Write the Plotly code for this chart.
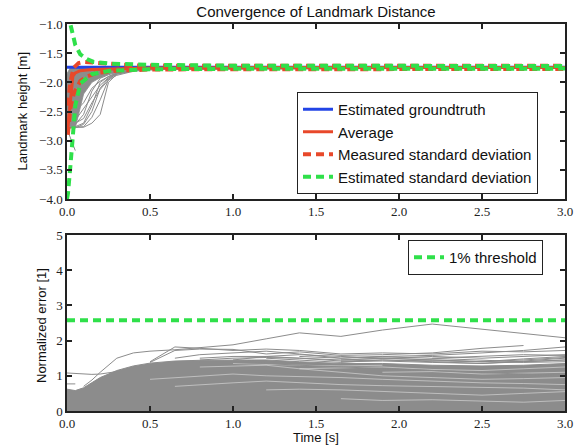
import plotly.graph_objects as go

W, H = 584, 448


def px(X):
    return X / W


def py(Y):
    return 1 - Y / H


# ---------------- top panel data ----------------
truth_t = [0.0, 3.0]
truth_v = [-1.74, -1.74]

avg_t = [0.005, 0.015, 0.025, 0.035, 0.05, 0.08, 0.15, 0.3, 0.5, 1.0, 3.0]
avg_v = [-2.8, -2.5, -2.1, -1.9, -1.84, -1.8, -1.78, -1.765, -1.755, -1.748, -1.745]

msd_hi_t = [0.005, 0.02, 0.04, 0.07, 0.1, 0.15, 0.25, 0.4, 0.7, 3.0]
msd_hi_v = [-2.4, -2.0, -1.75, -1.67, -1.65, -1.66, -1.69, -1.71, -1.715, -1.715]
msd_lo_t = [0.005, 0.02, 0.04, 0.08, 0.12, 0.18, 0.3, 0.5, 1.0, 3.0]
msd_lo_v = [-2.9, -2.45, -2.2, -1.98, -1.9, -1.84, -1.8, -1.78, -1.775, -1.772]

esd_hi_t = [0.022, 0.03, 0.05, 0.08, 0.12, 0.16, 0.26, 0.5, 1.0, 3.0]
esd_hi_v = [-1.02, -1.13, -1.36, -1.52, -1.6, -1.65, -1.68, -1.7, -1.715, -1.72]
esd_lo_t = [0.0, 0.006, 0.02, 0.03, 0.04, 0.05, 0.08, 0.15, 0.26, 0.5, 1.0, 3.0]
esd_lo_v = [-4.0, -3.9, -3.45, -3.1, -2.75, -2.4, -2.02, -1.86, -1.8, -1.775, -1.768, -1.765]

# individual landmark runs (top)
t_top = [0.0, 0.02, 0.05, 0.1, 0.15, 0.2, 0.25, 0.3, 0.4, 0.5, 0.7, 1.0, 3.0]
band_top_hi = [-1.85, -1.75, -1.74, -1.74, -1.74, -1.74, -1.74, -1.74, -1.74, -1.74, -1.74, -1.74, -1.74]
band_top_lo = [-2.72, -2.78, -2.78, -2.2, -2.0, -1.92, -1.86, -1.82, -1.79, -1.78, -1.772, -1.765, -1.76]
runs_top = [
    [-2.75, -2.78, -2.77, -2.76, -2.6, -2.3, -1.95, -1.85, -1.8, -1.78, -1.77, -1.765, -1.76],
    [-2.7, -2.75, -2.76, -2.7, -2.4, -2.0, -1.9, -1.84, -1.8, -1.78, -1.77, -1.765, -1.76],
    [-2.6, -2.7, -2.72, -2.55, -2.15, -1.93, -1.87, -1.83, -1.79, -1.78, -1.77, -1.765, -1.76],
    [-2.8, -2.78, -2.77, -2.77, -2.7, -2.55, -2.0, -1.86, -1.8, -1.78, -1.77, -1.765, -1.76],
    [-2.5, -2.6, -2.65, -2.45, -2.25, -2.05, -1.92, -1.85, -1.8, -1.78, -1.77, -1.765, -1.76],
    [-2.3, -2.4, -2.5, -2.35, -2.1, -1.98, -1.9, -1.84, -1.79, -1.78, -1.77, -1.765, -1.76],
    [-2.8, -2.95, -3.17, None, None, None, None, None, None, None, None, None, None],
    [-2.65, -2.77, -2.78, -2.72, -2.5, -2.1, -1.93, -1.86, -1.8, -1.78, -1.77, -1.765, -1.76],
    [-2.4, -2.55, -2.7, -2.62, -2.35, -2.12, -1.96, -1.88, -1.81, -1.785, -1.772, -1.765, -1.76],
]

# ---------------- bottom panel data ----------------
t_bot = [0.0, 0.05, 0.1, 0.15, 0.2, 0.3, 0.4, 0.5, 0.65, 0.8, 1.0, 1.2, 1.4, 1.65, 1.9, 2.2, 2.5, 2.75, 3.0]
band_bot = [0.62, 0.58, 0.66, 0.8, 0.95, 1.15, 1.28, 1.36, 1.42, 1.44, 1.45, 1.45, 1.4, 1.35, 1.35, 1.3, 1.28, 1.3, 1.35]
N = None
runs_bot = [
    [N, N, 0.7, 0.88, 1.1, 1.5, 1.65, 1.7, 1.74, 1.8, 1.88, 2.05, 2.22, 2.12, 2.3, 2.47, 2.33, 2.2, 2.08],
    [1.08, 1.06, 1.05, 1.04, 1.05, 1.12, 1.22, 1.3, 1.4, 1.4, 1.38, 1.35, 1.3, 1.25, 1.2, 1.15, 1.1, 1.05, 1.0],
    [0.77, 0.77, N, N, N, N, N, N, N, N, N, N, N, N, N, N, N, N, N],
    [N, N, N, N, N, N, N, 1.4, 1.82, 1.78, 1.72, 1.76, 1.72, 1.62, 1.65, 1.62, 1.7, 1.68, 1.72],
    [N, N, N, N, N, N, N, 1.38, 1.72, 1.76, 1.75, 1.62, 1.68, 1.58, 1.6, 1.65, 1.78, 1.86, N],
    [N, N, N, N, N, N, N, N, 1.5, 1.6, 1.65, 1.7, 1.62, 1.5, 1.55, 1.58, 1.65, 1.72, 1.82],
    [N, N, N, N, N, N, N, N, N, 1.45, 1.5, 1.52, 1.5, 1.45, 1.5, 1.55, 1.5, 1.55, 1.6],
    [N, N, N, N, N, N, N, N, N, N, N, 1.5, 1.45, 1.38, 1.45, 1.4, 1.35, 1.42, 1.5],
    [N, N, N, N, N, N, N, N, N, N, 1.45, 1.55, 1.5, 1.42, 1.45, 1.42, 1.4, 1.45, 1.52],
    [N, N, N, N, N, N, N, N, N, N, N, N, 1.55, 1.5, 1.55, 1.5, 1.45, 1.4, 1.45],
    [N, N, N, N, N, N, N, N, N, N, N, N, N, 1.45, 1.5, 1.45, 1.4, 1.48, 1.55],
    [N, N, N, N, N, N, N, N, N, N, N, N, N, N, N, 1.5, 1.55, 1.6, 1.58],
    [N, N, N, N, N, N, N, N, N, 1.5, 1.55, 1.55, 1.6, 1.55, 1.5, 1.45, 1.4, 1.38, 1.4],
    [N, N, N, N, N, N, N, N, N, N, N, N, N, 1.4, 1.42, 1.38, 1.35, 1.4, 1.45],
]
streaks_bot = [
    [N, N, N, N, N, N, N, 0.9, 0.95, 1.0, 1.05, 1.0, 0.98, 0.95, 0.9, 0.85, 0.8, 0.78, 0.75],
    [N, N, N, N, N, N, N, N, N, 1.25, 1.28, 1.3, 1.2, 1.1, 1.0, 0.95, 0.9, 0.92, 0.95],
    [N, N, N, N, N, N, N, N, N, N, N, 0.6, 0.62, 0.6, 0.55, 0.5, 0.45, 0.5, 0.55],
    [N, N, N, N, N, N, N, N, 0.7, 0.75, 0.8, 0.85, 0.8, 0.75, 0.72, 0.7, 0.68, 0.65, 0.6],
    [N, N, N, N, N, N, N, N, N, N, N, N, N, 0.35, 0.3, 0.32, 0.28, 0.25, 0.3],
    [N, N, N, N, N, N, N, N, N, N, N, N, 1.2, 1.22, 1.25, 1.18, 1.15, 1.2, 1.25],
    [N, N, N, N, N, N, N, N, N, N, N, N, N, N, 1.1, 1.12, 1.05, 1.08, 1.1],
    [N, N, N, N, N, N, N, N, N, N, 1.35, 1.32, 1.3, 1.28, 1.3, N, N, N, N],
]
threshold_t = [0.0, 3.0]
threshold_v = [2.58, 2.58]

# ---------------- styling ----------------
GRAY = "#8c8c8c"
BLUE = "#2244e6"
RED = "#e8482a"
GREEN = "#2fe04a"
SANS = "Liberation Sans"
SERIF = "Liberation Serif"


def join_runs(t, runs):
    xs, ys = [], []
    for r in runs:
        xs += list(t) + [None]
        ys += list(r) + [None]
    return xs, ys


fig = go.Figure()

fig.add_trace(go.Scatter(x=t_top + t_top[::-1], y=band_top_hi + band_top_lo[::-1],
                         fill="toself", fillcolor=GRAY, line=dict(width=0.8, color=GRAY),
                         mode="lines", showlegend=False, hoverinfo="skip", xaxis="x", yaxis="y"))
xs, ys = join_runs(t_top, runs_top)
fig.add_trace(go.Scatter(x=xs, y=ys, mode="lines", line=dict(color=GRAY, width=1),
                         showlegend=False, connectgaps=False, xaxis="x", yaxis="y"))

fig.add_trace(go.Scatter(x=truth_t, y=truth_v, mode="lines", name="Estimated groundtruth",
                         line=dict(color=BLUE, width=3), legend="legend", xaxis="x", yaxis="y"))
fig.add_trace(go.Scatter(x=avg_t, y=avg_v, mode="lines", name="Average",
                         line=dict(color=RED, width=3), legend="legend", xaxis="x", yaxis="y"))
fig.add_trace(go.Scatter(x=msd_hi_t, y=msd_hi_v, mode="lines", name="Measured standard deviation",
                         line=dict(color=RED, width=4, dash="8px,5px"), legendgroup="msd",
                         legend="legend", xaxis="x", yaxis="y"))
fig.add_trace(go.Scatter(x=msd_lo_t, y=msd_lo_v, mode="lines", showlegend=False,
                         line=dict(color=RED, width=4, dash="8px,5px"), legendgroup="msd",
                         xaxis="x", yaxis="y"))
fig.add_trace(go.Scatter(x=esd_hi_t, y=esd_hi_v, mode="lines", name="Estimated standard deviation",
                         line=dict(color=GREEN, width=4, dash="8px,5px"), legendgroup="esd",
                         legend="legend", xaxis="x", yaxis="y"))
fig.add_trace(go.Scatter(x=esd_lo_t, y=esd_lo_v, mode="lines", showlegend=False,
                         line=dict(color=GREEN, width=4, dash="8px,5px"), legendgroup="esd",
                         xaxis="x", yaxis="y"))

fig.add_trace(go.Scatter(x=t_bot, y=band_bot, fill="tozeroy", fillcolor=GRAY,
                         line=dict(color=GRAY, width=1), mode="lines", showlegend=False,
                         hoverinfo="skip", xaxis="x2", yaxis="y2"))
xs, ys = join_runs(t_bot, streaks_bot)
fig.add_trace(go.Scatter(x=xs, y=ys, mode="lines", line=dict(color="rgba(255,255,255,0.55)", width=0.8),
                         showlegend=False, xaxis="x2", yaxis="y2"))
xs, ys = join_runs(t_bot, runs_bot)
fig.add_trace(go.Scatter(x=xs, y=ys, mode="lines", line=dict(color=GRAY, width=1),
                         showlegend=False, xaxis="x2", yaxis="y2"))
fig.add_trace(go.Scatter(x=threshold_t, y=threshold_v, mode="lines", name="1% threshold",
                         line=dict(color=GREEN, width=4, dash="8px,5px"), legend="legend2",
                         xaxis="x2", yaxis="y2"))

axis_common = dict(showgrid=False, zeroline=False, showline=True, linecolor="#222",
                   linewidth=1.5, mirror="allticks", ticks="inside", ticklen=5,
                   tickcolor="#222", tickwidth=1.5, automargin=False,
                   tickfont=dict(family=SERIF, size=13, color="#222"))

fig.update_layout(
    width=W, height=H, margin=dict(l=0, r=0, t=0, b=0, pad=0, autoexpand=False),
    paper_bgcolor="white", plot_bgcolor="white",
    xaxis=dict(domain=[px(67), px(565)], range=[0, 3], dtick=0.5, tickformat=".1f", anchor="y", **axis_common),
    yaxis=dict(domain=[py(199), py(24)], range=[-4, -1], dtick=0.5, tickformat=".1f",
               anchor="x", **axis_common),
    xaxis2=dict(domain=[px(67), px(565)], range=[0, 3], dtick=0.5, tickformat=".1f", anchor="y2", **axis_common),
    yaxis2=dict(domain=[py(411), py(235)], range=[0, 5], dtick=1, anchor="x2", **axis_common),
    title=dict(text="Convergence of Landmark Distance", x=px(316), xanchor="center",
               y=py(12), yanchor="middle", xref="container", yref="container",
               font=dict(family=SANS, size=15, color="#111")),
    legend=dict(x=px(297), y=py(92), xanchor="left", yanchor="top",
                bgcolor="white", bordercolor="#222", borderwidth=1,
                font=dict(family=SANS, size=15, color="#111"), traceorder="normal"),
    legend2=dict(x=px(408), y=py(240), xanchor="left", yanchor="top",
                 bgcolor="white", bordercolor="#222", borderwidth=1,
                 font=dict(family=SANS, size=15, color="#111")),
    annotations=[
        dict(text="Landmark height [m]", x=px(22), y=py(111.5), xref="paper", yref="paper",
             textangle=-90, showarrow=False, font=dict(family=SANS, size=13, color="#111"),
             xanchor="center", yanchor="middle"),
        dict(text="Normalized error [1]", x=px(41), y=py(326), xref="paper", yref="paper",
             textangle=-90, showarrow=False, font=dict(family=SANS, size=13, color="#111"),
             xanchor="center", yanchor="middle"),
        dict(text="Time [s]", x=px(315.5), y=py(437), xref="paper", yref="paper",
             showarrow=False, font=dict(family=SANS, size=13, color="#111"),
             xanchor="center", yanchor="middle"),
    ],
)

fig.write_html("out.html")
